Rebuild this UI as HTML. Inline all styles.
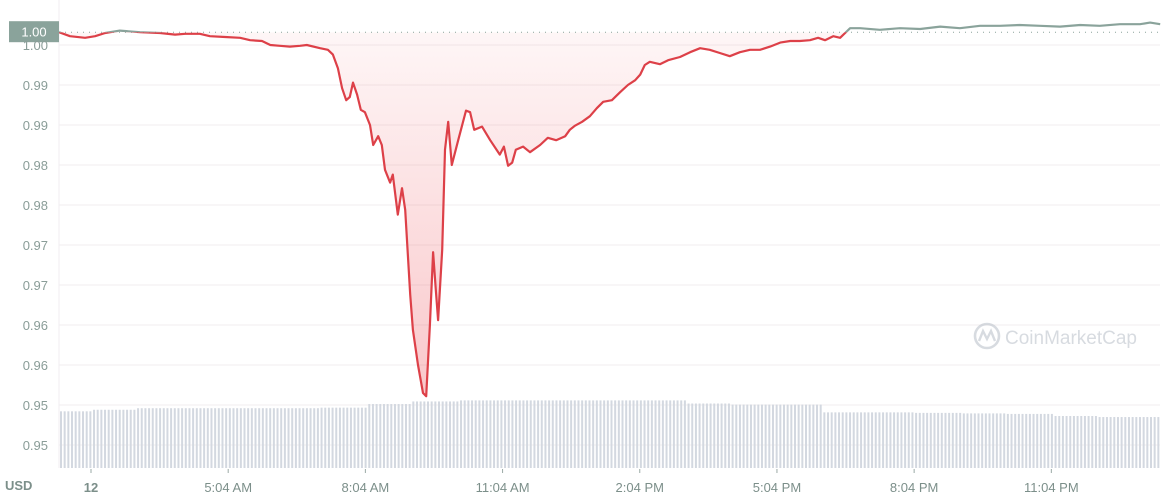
<!DOCTYPE html>
<html><head><meta charset="utf-8">
<style>
html,body{margin:0;padding:0;background:#fff;}
svg{display:block;font-family:"Liberation Sans",sans-serif;}
</style></head>
<body>
<svg id="chart" width="1165" height="501" viewBox="0 0 1165 501">
  <defs>
    <linearGradient id="redFill" x1="0" y1="0" x2="0" y2="1">
      <stop offset="0" stop-color="#ea3943" stop-opacity="0.04"/>
      <stop offset="1" stop-color="#ea3943" stop-opacity="0.28"/>
    </linearGradient>
    <clipPath id="above"><rect id="clipAbove" x="0" y="0" width="1165" height="0"/></clipPath>
    <clipPath id="below"><rect id="clipBelow" x="0" y="0" width="1165" height="501"/></clipPath>
  </defs>
  <g id="grid"></g>
  <g id="volume"></g>
  <g id="series"></g>
  <g id="yaxis"></g>
  <g id="xaxis"></g>
  <g opacity="0.55">
    <circle cx="987" cy="336" r="12" fill="none" stroke="#b8bec8" stroke-width="2.6"/>
    <path d="M979,341 L983,331 L987,339 L991,331 L995,341" fill="none" stroke="#b8bec8" stroke-width="2.4"/>
    <text x="1005" y="344" font-size="19" fill="#b8bec8">CoinMarketCap</text>
  </g>
  <text x="5" y="490" font-size="13" font-weight="bold" fill="#7c8f8a">USD</text>
</svg>
<script>
// hours measured from the "12" tick (2:04 AM)
const hours = [-0.70,-0.46,-0.13,0.09,0.31,0.63,1.07,1.51,1.84,2.06,2.38,2.60,2.93,3.26,3.48,3.74,3.92,4.13,4.35,4.57,4.72,5.01,5.18,5.29,5.40,5.49,5.58,5.66,5.73,5.82,5.90,5.99,6.10,6.17,6.28,6.36,6.43,6.54,6.60,6.71,6.80,6.87,6.98,7.04,7.15,7.26,7.33,7.41,7.48,7.54,7.59,7.68,7.74,7.81,7.89,8.03,8.20,8.29,8.38,8.55,8.73,8.94,9.03,9.12,9.21,9.29,9.45,9.60,9.82,9.99,10.17,10.37,10.47,10.58,10.74,10.91,11.06,11.20,11.39,11.57,11.74,11.90,12.01,12.11,12.22,12.44,12.62,12.88,13.10,13.32,13.53,13.75,13.97,14.19,14.41,14.63,14.85,15.07,15.29,15.50,15.72,15.90,16.05,16.23,16.38,16.49,16.60,16.82,17.25,17.69,18.13,18.57,19.00,19.44,19.88,20.31,20.75,21.19,21.63,22.06,22.50,22.94,23.16,23.38];
const prices = [1.0016,1.0011,1.0009,1.0011,1.0015,1.0018,1.0016,1.0015,1.0013,1.0014,1.0014,1.0011,1.0010,1.0009,1.0006,1.0005,1.0000,0.9999,0.9998,0.9999,1.0000,0.9996,0.9994,0.9988,0.9971,0.9946,0.9931,0.9935,0.9953,0.9938,0.9919,0.9916,0.9900,0.9875,0.9886,0.9875,0.9844,0.9828,0.9838,0.9788,0.9821,0.9794,0.9688,0.9644,0.9600,0.9565,0.9561,0.9650,0.9741,0.9694,0.9656,0.9744,0.9869,0.9904,0.9850,0.9881,0.9918,0.9916,0.9894,0.9898,0.9881,0.9863,0.9873,0.9849,0.9853,0.9869,0.9873,0.9866,0.9875,0.9884,0.9881,0.9886,0.9894,0.9899,0.9904,0.9911,0.9921,0.9929,0.9931,0.9941,0.9950,0.9956,0.9963,0.9975,0.9979,0.9976,0.9981,0.9985,0.9991,0.9996,0.9994,0.9990,0.9986,0.9991,0.9994,0.9994,0.9998,1.0003,1.0005,1.0005,1.0006,1.0009,1.0006,1.0011,1.0009,1.0015,1.0021,1.0021,1.0019,1.0021,1.0020,1.0023,1.0021,1.0024,1.0024,1.0025,1.0024,1.0023,1.0025,1.0024,1.0026,1.0026,1.0028,1.0026];
const baselinePrice = 1.0016;
const yTickValues = [1.000,0.995,0.990,0.985,0.980,0.975,0.970,0.965,0.960,0.955,0.950];
const yTickLabels = ["1.00","0.99","0.99","0.98","0.98","0.97","0.97","0.96","0.96","0.95","0.95"];
const xTickHours = [0,3,6,9,12,15,18,21];
const xTickLabels = ["12","5:04 AM","8:04 AM","11:04 AM","2:04 PM","5:04 PM","8:04 PM","11:04 PM"];
const volumeHours = [-1,0,1,2,3,4,5,6,7,8,9,10,11,12,13,14,15,16,17,18,19,20,21,22,23];
const volumes = [10.9,11.2,11.5,11.5,11.5,11.5,11.6,12.3,12.8,13,13,13,13,13,12.4,12.2,12.2,10.7,10.7,10.6,10.5,10.4,10.0,9.8,9.8];

const NS="http://www.w3.org/2000/svg";
const X0=59,X1=1160,YB=468;
function xs(h){return 91+h*45.73;}
function ys(v){return 45+(1-v)/0.005*40;}
function vy(v){return 468-v*5.2;}
function mk(tag,attrs,parent){const e=document.createElementNS(NS,tag);for(const k in attrs)e.setAttribute(k,attrs[k]);parent.appendChild(e);return e;}

const grid=document.getElementById('grid');
const yaxis=document.getElementById('yaxis');
yTickValues.forEach((v,i)=>{
  const l=mk('line',{x1:X0,x2:X1,y1:ys(v),y2:ys(v),stroke:'#f1eeef','stroke-width':1},grid);
  
  
  const t=mk('text',{x:48,y:ys(v)+5,'text-anchor':'end','font-size':13,fill:'#8a9d98'},yaxis);
  t.textContent=yTickLabels[i];
  
  
});
const ax=mk('line',{x1:X0,x2:X0,y1:0,y2:YB,stroke:'#f0eef0'},grid);



const vol=document.getElementById('volume');
for(let x=X0+1;x<X1;x+=3.67){
  const h=(x-91)/45.73;
  let idx=0;for(let i=0;i<volumeHours.length;i++){if(h>=volumeHours[i])idx=i;}
  const top=vy(volumes[idx]);
  const r=mk('rect',{x:x.toFixed(2),y:top,width:2,height:YB-top,fill:'#d3d8e0'},vol);
  
  
}

const by=ys(baselinePrice);
document.getElementById('clipAbove').setAttribute('height',by);
document.getElementById('clipBelow').setAttribute('y',by);
document.getElementById('clipBelow').setAttribute('height',501-by);
const series=document.getElementById('series');
const pts=hours.map((h,i)=>[xs(h),ys(prices[i])]);
const d='M'+pts.map(p=>p[0].toFixed(1)+','+p[1].toFixed(1)).join(' L');
const area=mk('path',{d:d+` L${pts[pts.length-1][0]},${by} L${pts[0][0]},${by} Z`,fill:'url(#redFill)','clip-path':'url(#below)'},series);


const bl=mk('line',{x1:X0,x2:X1,y1:by,y2:by,stroke:'#8aa39b','stroke-dasharray':'1 5','stroke-width':1},series);


const lr=mk('path',{d:d,fill:'none',stroke:'#dd4048','stroke-width':2.2,'stroke-linejoin':'round','clip-path':'url(#below)'},series);


const lg=mk('path',{d:d,fill:'none',stroke:'#8aa39b','stroke-width':2.2,'stroke-linejoin':'round','clip-path':'url(#above)'},series);


const badge=mk('rect',{x:9,y:by-11,width:50,height:21,fill:'#8aa39b'},series);


const bt=mk('text',{x:34,y:by+4.5,'text-anchor':'middle','font-size':13,fill:'#fff'},series);
bt.textContent=baselinePrice.toFixed(2);



const xa=document.getElementById('xaxis');
xTickHours.forEach((h,i)=>{
  const x=xs(h);
  const tk=mk('line',{x1:x,x2:x,y1:469,y2:473,stroke:'#9aa9a5'},xa);
  
  
  const t=mk('text',{x:x,y:492,'text-anchor':'middle','font-size':13,fill:'#7c8f8a'},xa);
  if(i===0)t.setAttribute('font-weight','bold');
  t.textContent=xTickLabels[i];
  
  
});
</script>
</body></html>
